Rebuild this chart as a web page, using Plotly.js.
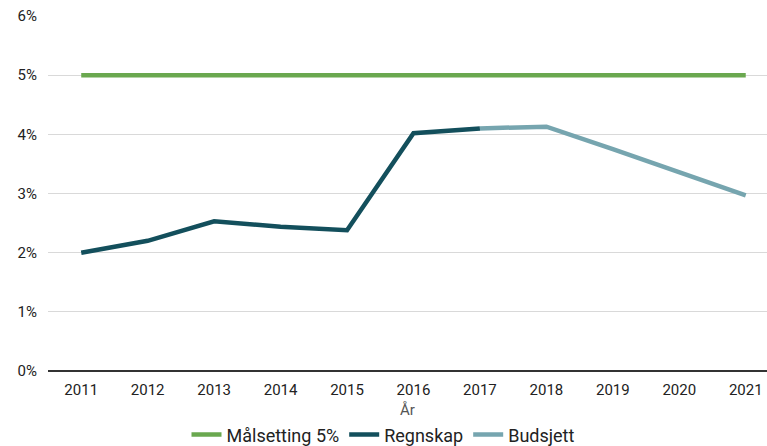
<!DOCTYPE html>
<html><head><meta charset="utf-8">
<script src="https://cdn.plot.ly/plotly-3.0.1.min.js"></script>
<style>html,body{margin:0;padding:0;background:#fff}#c{width:767px;height:446px}</style>
</head><body><div id="c"></div>
<script>
const years = ['2011','2012','2013','2014','2015','2016','2017','2018','2019','2020','2021'];
const target = [5,5,5,5,5,5,5,5,5,5,5];
const regnYears = ['2011','2012','2013','2014','2015','2016','2017'];
const regnskap = [2.0,2.2,2.53,2.44,2.38,4.02,4.1];
const budYears = ['2017','2018','2019','2020','2021'];
const budsjett = [4.1,4.13,3.75,3.35,2.97];
const xTitle = 'År';

const font = {family:'Roboto, sans-serif', size:15, color:'#222'};
const traces = [
  {x:years, y:target, name:'Målsetting 5%', mode:'lines', line:{color:'#6aa84f', width:4.5}},
  {x:regnYears, y:regnskap, name:'Regnskap', mode:'lines', line:{color:'#134f5c', width:4.5}},
  {x:budYears, y:budsjett, name:'Budsjett', mode:'lines', line:{color:'#76a5af', width:4.5}}
];
const layout = {
  width:767, height:446,
  margin:{l:48, r:0, t:16, b:75, autoexpand:false},
  paper_bgcolor:'#fff', plot_bgcolor:'#fff',
  font:font,
  showlegend:true,
  legend:{orientation:'h', x:0.5, xanchor:'center', xref:'container', yref:'container', y:0.025, yanchor:'middle',
    font:{family:'Roboto, sans-serif', size:18, color:'#222'}},
  annotations:[{text:xTitle, xref:'paper', yref:'paper', x:0.5, y:-0.11, xanchor:'center', yanchor:'middle',
    showarrow:false, font:{family:'Roboto, sans-serif', size:15, color:'#555'}}],
  xaxis:{type:'category', range:[-0.5,10.32], showgrid:false, zeroline:false, showline:false, automargin:false,
    ticks:'', ticklabelstandoff:8, tickfont:{size:15, color:'#222'}},
  yaxis:{range:[0,6], dtick:1, tickformat:'.0f', ticksuffix:'%', showgrid:true, gridcolor:'#d9d9d9', gridwidth:1, automargin:false,
    zeroline:true, zerolinecolor:'#333', zerolinewidth:1.5, ticks:'', ticklabelstandoff:10,
    tickfont:{size:15, color:'#222'}}
};
Plotly.newPlot('c', traces, layout, {staticPlot:true});
</script></body></html>
